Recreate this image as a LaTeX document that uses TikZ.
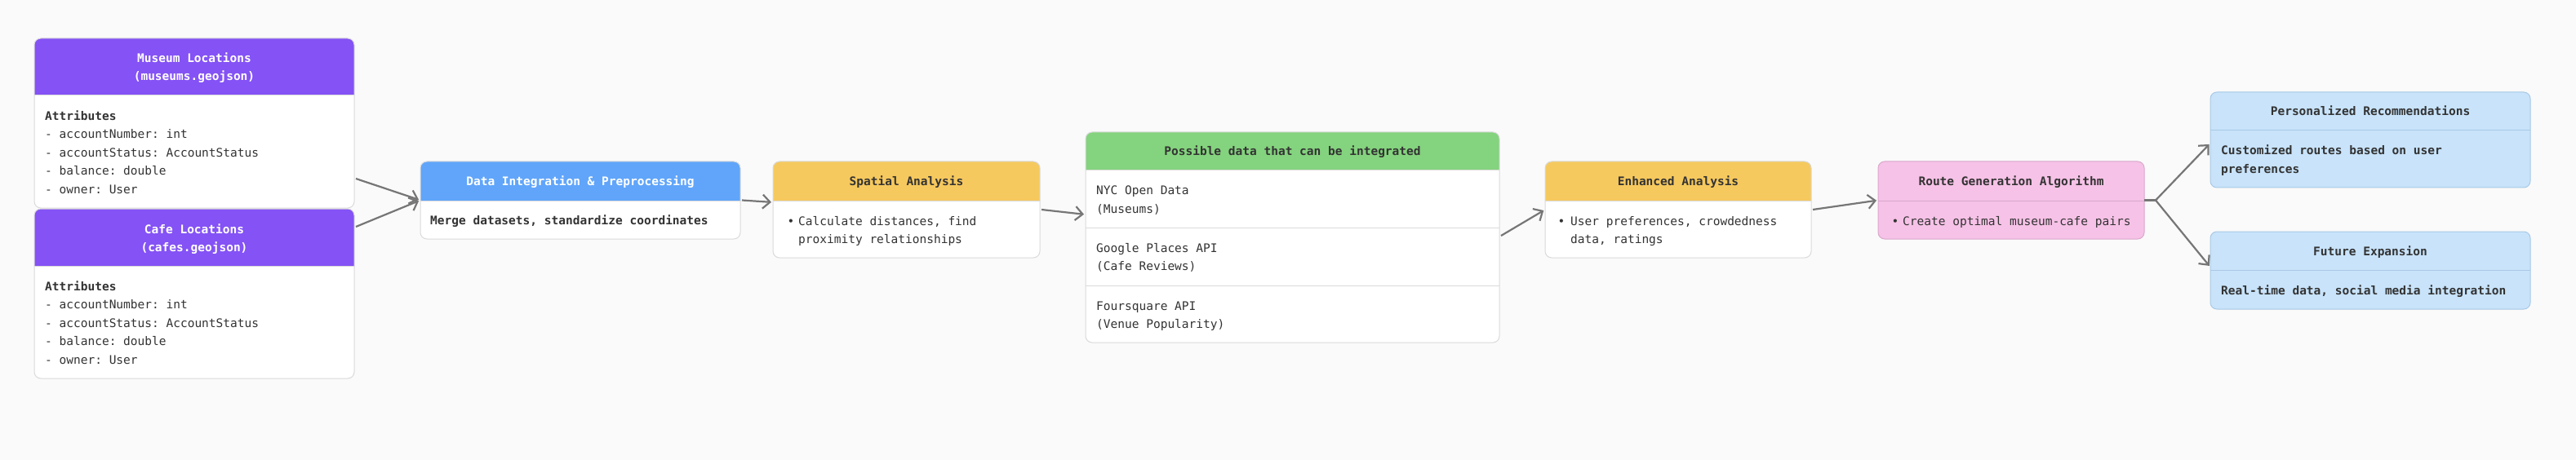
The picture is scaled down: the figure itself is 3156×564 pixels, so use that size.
\documentclass[tikz,border=0pt]{standalone}
\usepackage{fontspec}
\setmonofont{DejaVu Sans Mono}
\usetikzlibrary{arrows.meta}
\definecolor{bg}{HTML}{FAFAFA}
\definecolor{purp}{HTML}{8452F5}
\definecolor{blueh}{HTML}{60A5FA}
\definecolor{yell}{HTML}{F6C95E}
\definecolor{grn}{HTML}{84D37E}
\definecolor{pink}{HTML}{F6C2E7}
\definecolor{pinkb}{HTML}{D9A8CB}
\definecolor{lblue}{HTML}{C8E3FA}
\definecolor{lblueb}{HTML}{A9C9E6}
\definecolor{bord}{HTML}{DADADA}
\definecolor{txt}{HTML}{333333}
\definecolor{arr}{HTML}{767676}
\newcommand\bodyfont{\ttfamily\fontsize{14.5}{22.5}\selectfont}
\newcommand\titlefont{\ttfamily\bfseries\fontsize{14.5}{22}\selectfont}
% name, x1, y1, x2, y2, header bottom, header colour, body colour, border colour
\newcommand\mkbox[9]{%
  \node[boxnode, minimum width={(#4-#2)*1pt}, minimum height={(#5-#3)*1pt}] (#1) at ({(#2+#4)/2},{(#3+#5)/2}) {};
  \coordinate (#1h) at (0,#6);
  \fill[#8, rounded corners=8pt] (#1.north west) rectangle (#1.south east);
  \begin{scope}
    \clip (#1.north west) rectangle (#1.east |- #1h);
    \fill[#7, rounded corners=8pt] (#1.north west) rectangle (#1.south east);
  \end{scope}
  \draw[#9, line width=1pt] (#1.west |- #1h) -- (#1.east |- #1h);
  \draw[#9, line width=1pt, rounded corners=8pt] (#1.north west) rectangle (#1.south east);
}
\begin{document}
\begin{tikzpicture}[x=1pt,y=-1pt,
  boxnode/.style={rectangle, inner sep=0pt, outer sep=0pt, draw=none},
  ttl/.style={font=\titlefont, text=txt, inner sep=0pt, anchor=base, align=center},
  ttlw/.style={ttl, text=white},
  body/.style={font=\bodyfont, text=txt, inner sep=0pt, anchor=base west, align=left},
  bodyb/.style={body, font=\bodyfont\bfseries},
  bul/.style={font=\bodyfont, text=txt, inner sep=0pt, anchor=base},
  conn/.style={draw=arr, line width=2.2pt, -{Straight Barb[length=9pt,width=17pt]}, shorten >=2pt},
  plain/.style={draw=arr, line width=2.2pt}]
\fill[bg] (0,0) rectangle (3156,564);
\useasboundingbox (0,0) rectangle (3156,564);

% Museum Locations
\mkbox{mus}{42}{47}{434}{255}{117}{purp}{white}{bord}
\node[ttlw] (mus-t) at (238,99) {Museum Locations\\(museums.geojson)};
\node[body] (mus-b) at (55,237) {\textbf{Attributes}\\- accountNumber: int\\- accountStatus: AccountStatus\\- balance: double\\- owner: User};

% Cafe Locations
\mkbox{caf}{42}{256}{434}{464}{326}{purp}{white}{bord}
\node[ttlw] (caf-t) at (238,308) {Cafe Locations\\(cafes.geojson)};
\node[body] (caf-b) at (55,446) {\textbf{Attributes}\\- accountNumber: int\\- accountStatus: AccountStatus\\- balance: double\\- owner: User};

% Data Integration
\mkbox{dip}{515}{198}{907}{293}{246}{blueh}{white}{bord}
\node[ttlw] (dip-t) at (711,228) {Data Integration \& Preprocessing};
\node[bodyb] (dip-b) at (527,275) {Merge datasets, standardize coordinates};

% Spatial Analysis
\mkbox{spa}{947}{198}{1274}{316}{246}{yell}{white}{bord}
\node[ttl] (spa-t) at (1110.5,228) {Spatial Analysis};
\node[bul] (spa-d) at (969,276) {•};
\node[body] (spa-b) at (978,298.5) {Calculate distances, find\\proximity relationships};

% Possible data
\mkbox{pos}{1330}{162}{1837}{420}{209}{grn}{white}{bord}
\coordinate (posd1) at (0,279);
\coordinate (posd2) at (0,350);
\draw[bord, line width=1pt] (pos.west |- posd1) -- (pos.east |- posd1);
\draw[bord, line width=1pt] (pos.west |- posd2) -- (pos.east |- posd2);
\node[ttl] (pos-t) at (1583.5,191) {Possible data that can be integrated};
\node[body] (pos-1) at (1343,261.5) {NYC Open Data\\(Museums)};
\node[body] (pos-2) at (1343,331.5) {Google Places API\\(Cafe Reviews)};
\node[body] (pos-3) at (1343,402.5) {Foursquare API\\(Venue Popularity)};

% Enhanced Analysis
\mkbox{enh}{1893}{198}{2219}{316}{246}{yell}{white}{bord}
\node[ttl] (enh-t) at (2056,228) {Enhanced Analysis};
\node[bul] (enh-d) at (1913,276) {•};
\node[body] (enh-b) at (1924,298.5) {User preferences, crowdedness\\data, ratings};

% Route Generation
\mkbox{rga}{2301}{198}{2627}{293}{246}{pink}{pink}{pinkb}
\node[ttl] (rga-t) at (2464,228) {Route Generation Algorithm};
\node[bul] (rga-d) at (2322,276) {•};
\node[body] (rga-b) at (2331,276) {Create optimal museum-cafe pairs};

% Personalized
\mkbox{per}{2708}{113}{3100}{230}{160}{lblue}{lblue}{lblueb}
\node[ttl] (per-t) at (2904,142) {Personalized Recommendations};
\node[bodyb] (per-b) at (2721,212.5) {Customized routes based on user\\preferences};

% Future
\mkbox{fut}{2708}{284}{3100}{379}{331}{lblue}{lblue}{lblueb}
\node[ttl] (fut-t) at (2904,313) {Future Expansion};
\node[bodyb] (fut-b) at (2721,361) {Real-time data, social media integration};

% connectors
\draw[conn] ([xshift=2pt,yshift=36pt]mus.south east) -- (dip.west);
\draw[conn] ([xshift=2pt,yshift=-22pt]caf.north east) -- (dip.west);
\draw[conn] ([xshift=2pt]dip.east) -- ([yshift=9pt]spa.west);
\draw[conn] ([xshift=2pt]spa.east) -- ([yshift=28pt]pos.west);
\draw[conn] ([xshift=2pt,yshift=2pt]pos.east) -- (enh.west);
\draw[conn] ([xshift=2pt]enh.east) -- (rga.west);
\coordinate (fork) at ([xshift=14pt]rga.east);
\draw[plain] (rga.east) -- (fork);
\draw[conn] (fork) -- ([yshift=-4pt]per.west);
\draw[conn] (fork) -- ([yshift=4pt]fut.west);
\end{tikzpicture}
\end{document}
